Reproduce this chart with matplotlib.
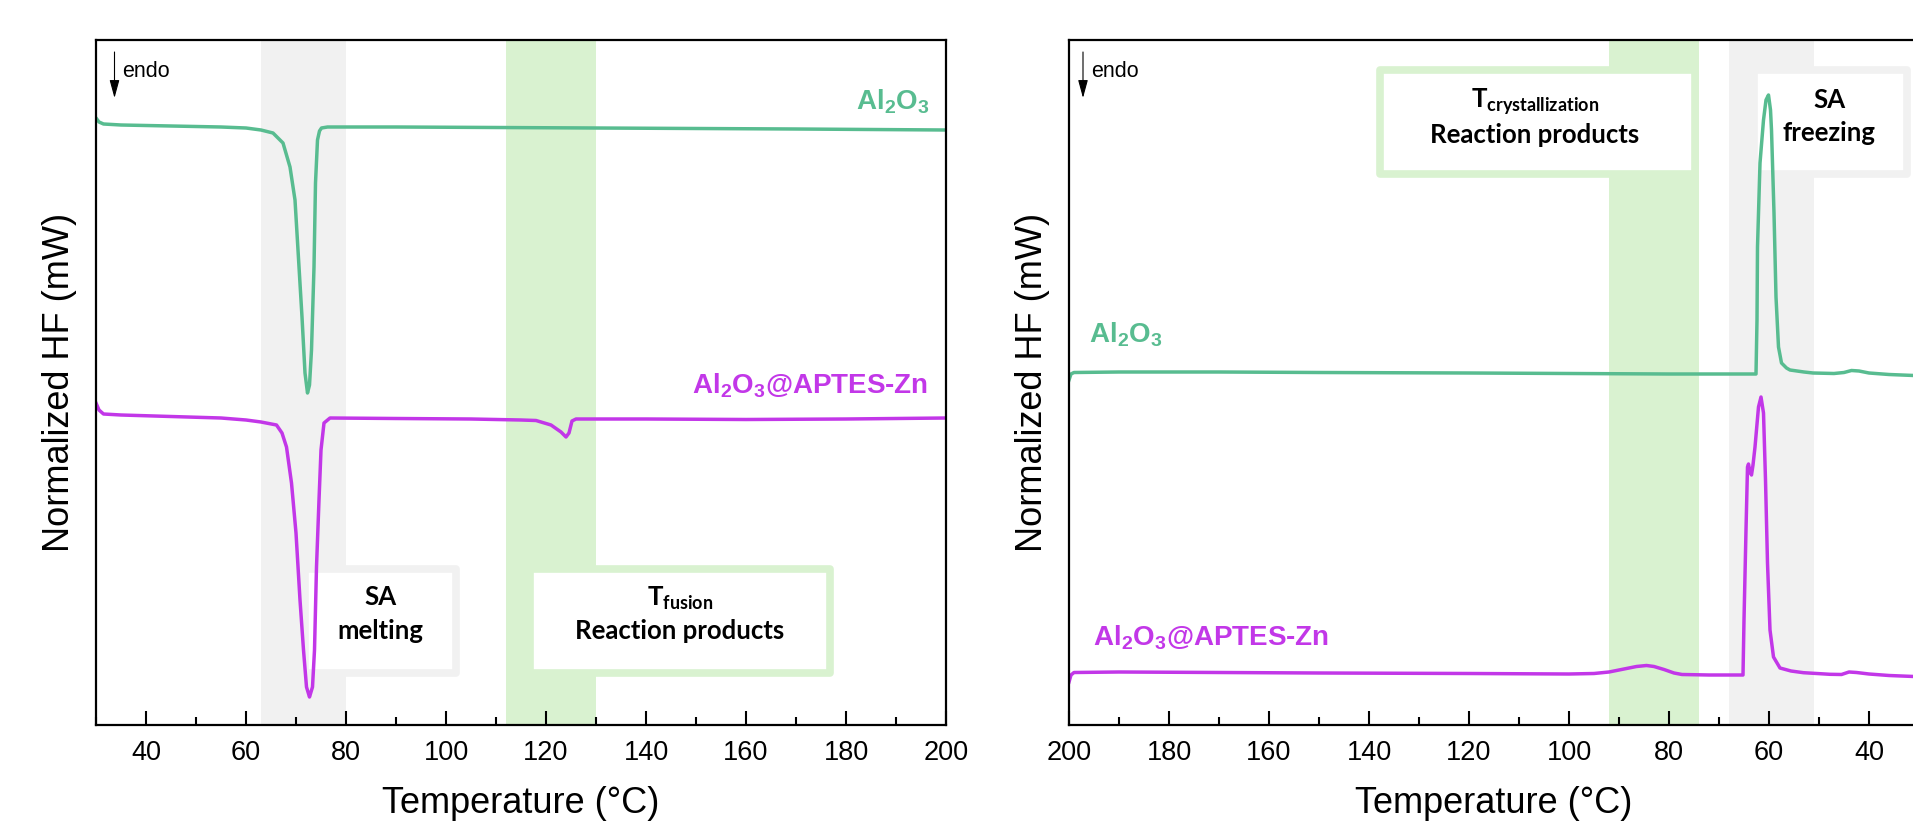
import matplotlib
matplotlib.use("Agg")
import matplotlib.pyplot as plt
from matplotlib.patches import Rectangle
from matplotlib.ticker import MultipleLocator

plt.rcParams['font.family'] = ['Liberation Sans', 'DejaVu Sans']

# ---- data ----
# heating run (left panel), temperature in °C, normalized HF in arbitrary mW units
heat_T_al2o3 = [30.0, 30.6, 31.5, 35, 45, 55, 60, 63, 65.4, 67.4, 68.8, 69.8, 70.4, 71.2,
                71.8, 72.3, 72.7, 73.1, 73.6, 73.9, 74.3, 74.7, 75.1, 76.3, 90, 110,
                130, 150, 170, 185, 200]
heat_hf_al2o3 = [6.07, 6.03, 6.01, 6.00, 5.99, 5.98, 5.97, 5.95, 5.92, 5.82, 5.58, 5.25, 4.75,
                 4.08, 3.52, 3.32, 3.40, 3.75, 4.58, 5.42, 5.85, 5.94, 5.97, 5.98, 5.98,
                 5.975, 5.97, 5.965, 5.96, 5.955, 5.95]

heat_T_zn = [30.0, 30.6, 31.5, 35, 45, 55, 60, 63, 66.1, 67.2, 68.1, 69.1, 70.0, 70.8, 71.5,
             72.1, 72.7, 73.0, 73.3, 73.7, 74.1, 74.6, 75.0, 75.6, 76.8, 90, 105, 115, 118,
             121, 123, 124, 124.6, 125.2, 126, 140, 160, 180, 200]
heat_hf_zn = [3.22, 3.15, 3.11, 3.10, 3.085, 3.07, 3.05, 3.03, 3.00, 2.92, 2.78, 2.42, 1.92,
              1.25, 0.75, 0.38, 0.28, 0.33, 0.38, 0.75, 1.58, 2.25, 2.75, 3.02, 3.07, 3.065,
              3.06, 3.05, 3.045, 3.00, 2.93, 2.88, 2.92, 3.04, 3.06, 3.06, 3.055, 3.06, 3.07]

# cooling run (right panel)
cool_T_al2o3 = [200, 199.6, 199, 190, 170, 150, 120, 100, 80, 66, 62.6, 62.4, 62.3, 61.8,
                61.1, 60.6, 60.1, 59.7, 59.5, 59.0, 58.6, 58.1, 57.5, 56.5, 55.8, 53, 51.2,
                47, 45, 43.5, 42, 40, 36, 31]
cool_hf_al2o3 = [3.45, 3.51, 3.525, 3.53, 3.53, 3.525, 3.52, 3.515, 3.51, 3.51, 3.51, 4.05,
                 4.78, 5.62, 6.05, 6.25, 6.30, 6.15, 5.95, 5.12, 4.28, 3.78, 3.62, 3.57,
                 3.55, 3.53, 3.52, 3.515, 3.525, 3.545, 3.54, 3.52, 3.505, 3.495]

cool_T_zn = [200, 199.6, 199, 190, 170, 150, 120, 100, 95, 92, 89, 86.5, 84.5, 83, 81, 79,
             77.4, 72, 66, 65.2, 65.0, 64.6, 64.3, 64.1, 63.8, 63.5, 63.2, 62.8, 62.1, 61.6,
             61.1, 60.7, 60.3, 59.8, 59.1, 57.8, 55.6, 53.1, 47.8, 45.5, 44, 42.5, 40, 36, 31]
cool_hf_zn = [0.43, 0.50, 0.525, 0.53, 0.525, 0.52, 0.515, 0.51, 0.515, 0.53, 0.56, 0.585,
              0.595, 0.585, 0.555, 0.52, 0.505, 0.50, 0.50, 0.50, 1.05, 1.95, 2.58, 2.61,
              2.53, 2.50, 2.60, 2.78, 3.18, 3.28, 3.12, 2.45, 1.62, 0.95, 0.68, 0.57, 0.54,
              0.523, 0.507, 0.505, 0.53, 0.525, 0.51, 0.495, 0.485]

# shaded temperature ranges
heat_sa_range = (63, 80)
heat_rp_range = (112, 130)
cool_rp_range = (74, 92)
cool_sa_range = (51, 68)

label_al2o3 = r'Al$_\mathregular{2}$O$_\mathregular{3}$'
label_zn = r'Al$_\mathregular{2}$O$_\mathregular{3}$@APTES-Zn'

GREEN = '#58BC90'
PURPLE = '#C237E8'
BAND_GRAY = '#F1F1F1'
BAND_GREEN = '#D9F2D0'
BOX_FONT = ['Lato', 'DejaVu Sans']


def style_axes(ax, xlim):
    ax.set_xlim(*xlim)
    ax.set_ylim(0, 6.85)
    ax.xaxis.set_major_locator(MultipleLocator(20))
    ax.xaxis.set_minor_locator(MultipleLocator(10))
    ax.tick_params(axis='x', which='major', direction='in', length=10, width=1.5,
                   labelsize=19.5, pad=11, top=False)
    ax.tick_params(axis='x', which='minor', direction='in', length=5.5, width=1.5, top=False)
    ax.tick_params(axis='y', which='both', left=False, labelleft=False)
    for sp in ax.spines.values():
        sp.set_linewidth(1.6)
    ax.set_xlabel('Temperature (°C)', fontsize=26, labelpad=14)
    ax.set_ylabel('Normalized HF (mW)', fontsize=26, labelpad=14)


def endo_arrow(ax, x_arrow, x_text):
    ax.annotate('', xy=(x_arrow, 6.27), xytext=(x_arrow, 6.73),
                arrowprops=dict(arrowstyle='-|>,head_length=1.1,head_width=0.3',
                                lw=0.8, color='black', shrinkA=0, shrinkB=0))
    ax.text(x_text, 6.53, 'endo', fontsize=15.5, ha='left', va='center')


def note_box(ax, x0, x1, y0, y1, edge, line1, line2, xc, yb1, yb2):
    ax.add_patch(Rectangle((x0, y0), x1 - x0, y1 - y0, facecolor='white', edgecolor=edge,
                           linewidth=5.5, joinstyle='round', zorder=1))
    ax.text(xc, yb1, line1, family=BOX_FONT, weight='bold', fontsize=18.5,
            ha='center', va='baseline', zorder=3)
    ax.text(xc, yb2, line2, family=BOX_FONT, weight='bold', fontsize=18.5,
            ha='center', va='baseline', zorder=3)


fig = plt.figure(figsize=(19.13, 8.23), dpi=100)
ax1 = fig.add_axes([96 / 1913, 1 - 725 / 823, 850 / 1913, 685 / 823])
ax2 = fig.add_axes([1069 / 1913, 1 - 725 / 823, 850 / 1913, 685 / 823])

# ---- heating ----
ax1.axvspan(*heat_sa_range, color=BAND_GRAY, lw=0, zorder=0)
ax1.axvspan(*heat_rp_range, color=BAND_GREEN, lw=0, zorder=0)
note_box(ax1, 71.7, 102.1, 0.525, 1.56, BAND_GRAY, 'SA', 'melting', 86.8, 1.20, 0.86)
note_box(ax1, 116.8, 176.8, 0.525, 1.56, BAND_GREEN,
         r'T$_\mathregular{fusion}$', 'Reaction products', 146.8, 1.20, 0.86)
ax1.plot(heat_T_al2o3, heat_hf_al2o3, color=GREEN, lw=2.5, zorder=2)
ax1.plot(heat_T_zn, heat_hf_zn, color=PURPLE, lw=2.5, zorder=2)
ax1.text(196.8, 6.23, label_al2o3, color=GREEN, fontsize=20, weight='bold',
         ha='right', va='center')
ax1.text(196.4, 3.39, label_zn, color=PURPLE, fontsize=20, weight='bold',
         ha='right', va='center')
endo_arrow(ax1, 33.7, 35.2)
style_axes(ax1, (30, 200))

# ---- cooling ----
ax2.axvspan(*cool_rp_range, color=BAND_GREEN, lw=0, zorder=0)
ax2.axvspan(*cool_sa_range, color=BAND_GRAY, lw=0, zorder=0)
note_box(ax2, 137.9, 74.9, 5.505, 6.545, BAND_GREEN,
         r'T$_\mathregular{crystallization}$', 'Reaction products', 106.8, 6.17, 5.82)
note_box(ax2, 63.1, 32.4, 5.505, 6.545, BAND_GRAY, 'SA', 'freezing', 48.0, 6.17, 5.84)
ax2.plot(cool_T_al2o3, cool_hf_al2o3, color=GREEN, lw=2.5, zorder=2)
ax2.plot(cool_T_zn, cool_hf_zn, color=PURPLE, lw=2.5, zorder=2)
ax2.text(196.0, 3.90, label_al2o3, color=GREEN, fontsize=20, weight='bold',
         ha='left', va='center')
ax2.text(195.2, 0.87, label_zn, color=PURPLE, fontsize=20, weight='bold',
         ha='left', va='center')
endo_arrow(ax2, 197.2, 195.6)
style_axes(ax2, (200, 30))

fig.savefig('out.png', dpi=100)
